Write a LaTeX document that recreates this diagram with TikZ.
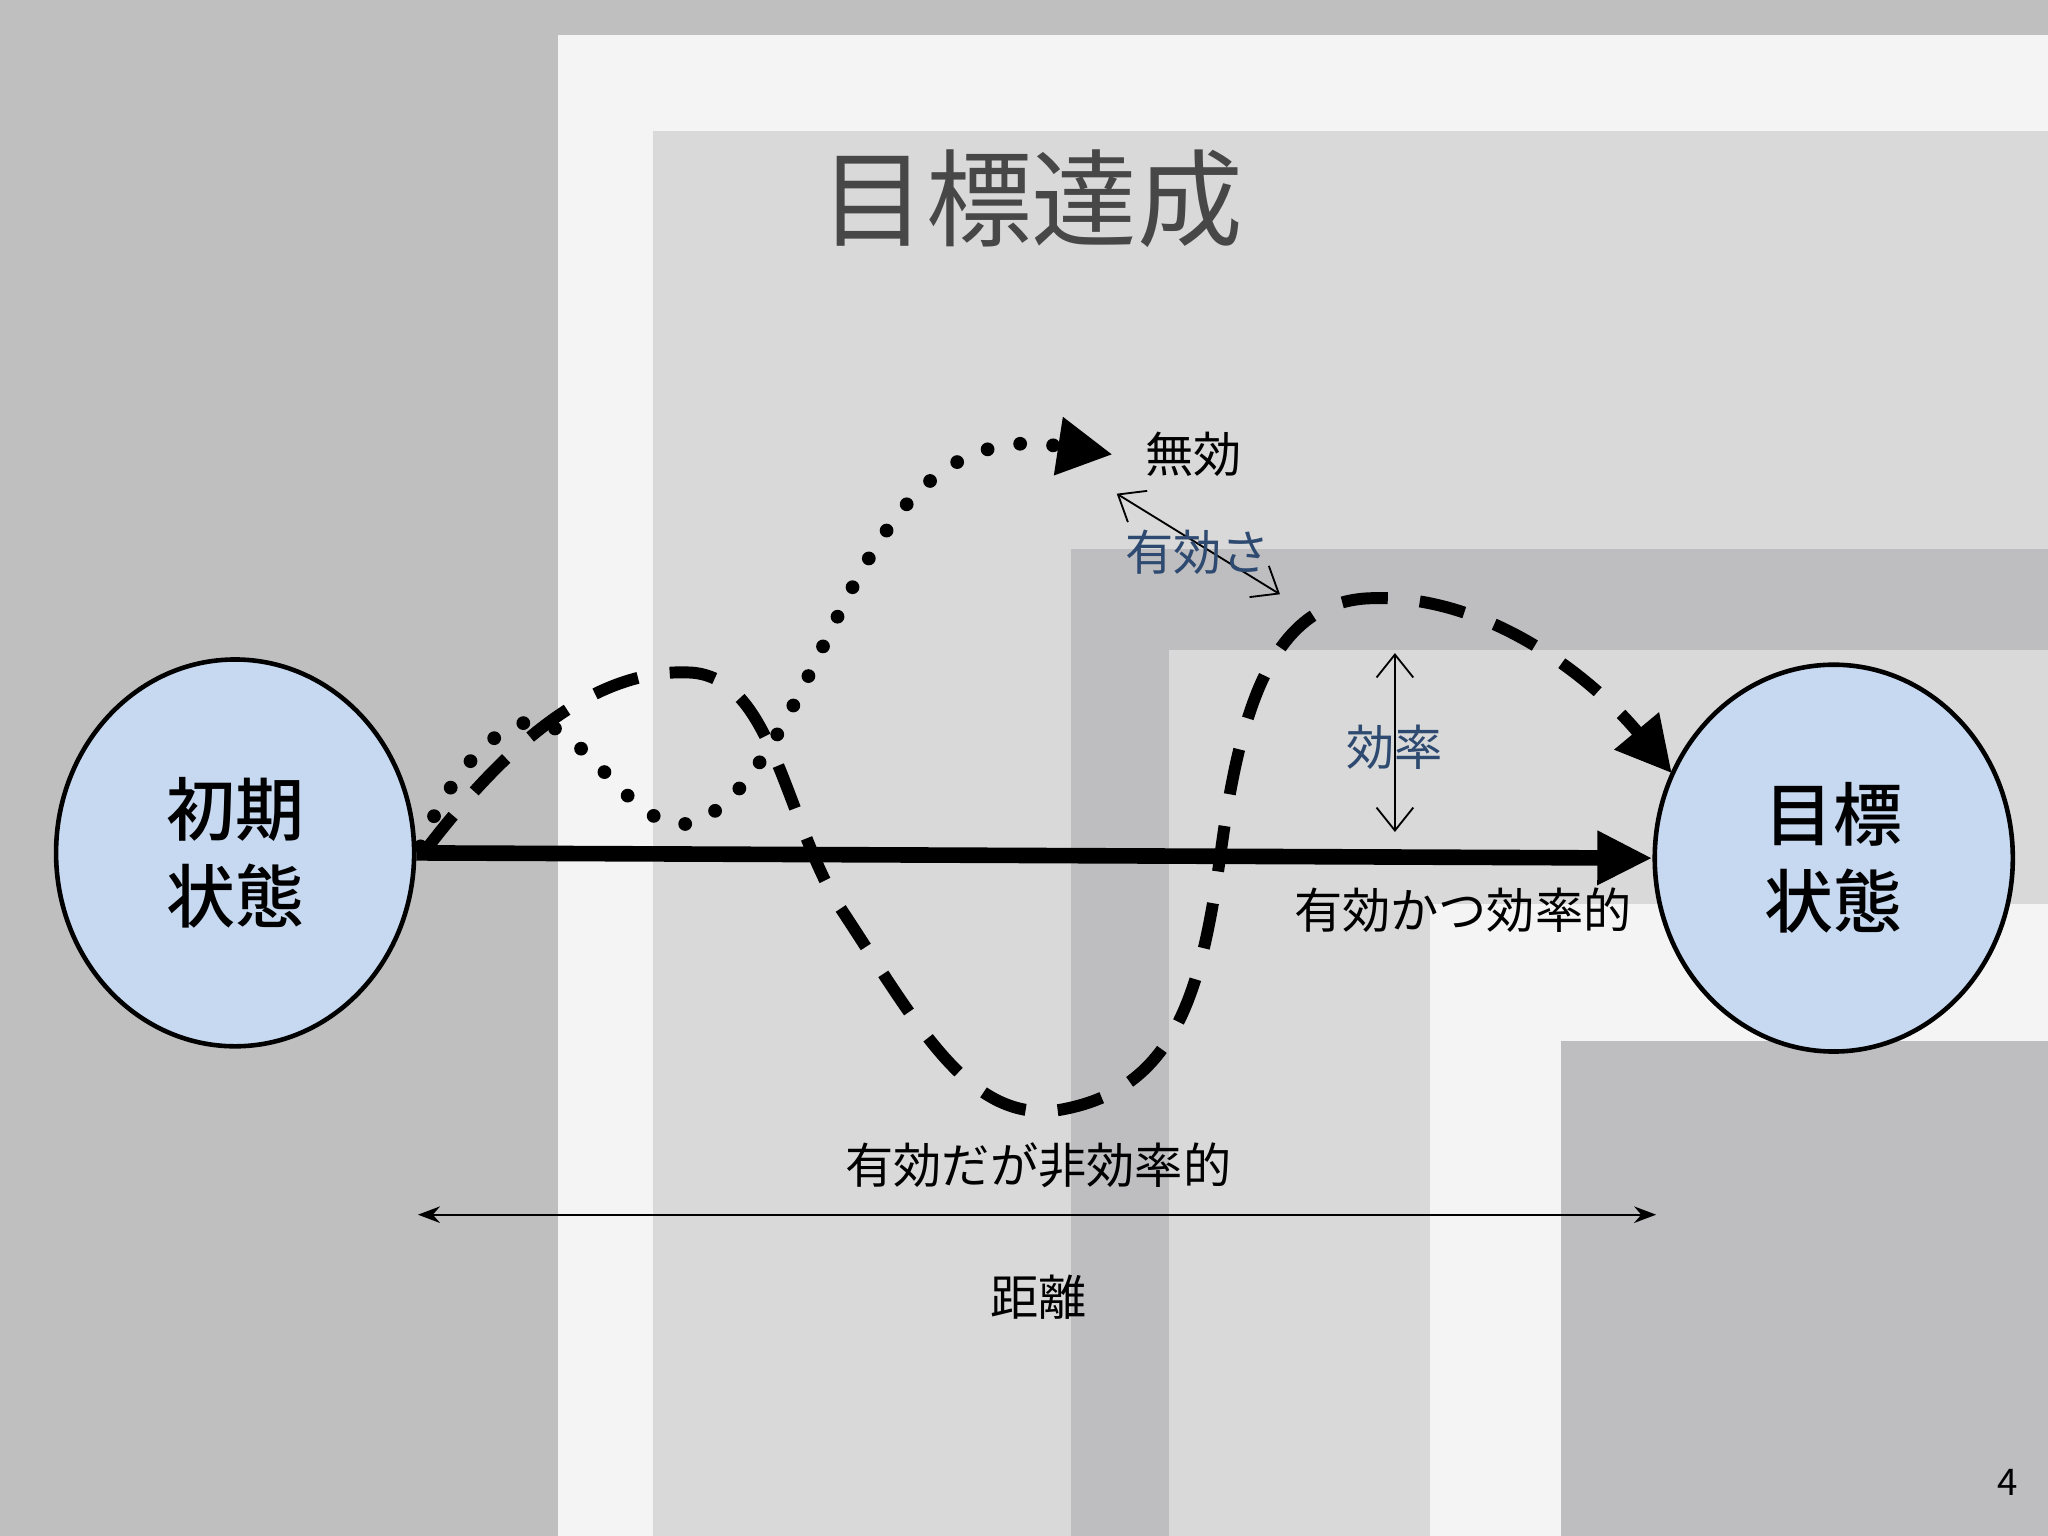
\documentclass[tikz,border=0pt]{standalone}
\usepackage{fontspec}
\setmainfont{Noto Sans CJK JP}
\newfontfamily\jpm{Noto Sans CJK JP Medium}
\usetikzlibrary{arrows.meta,shapes.geometric}
\definecolor{gA}{HTML}{BFBFBF}
\definecolor{wA}{HTML}{F4F4F4}
\definecolor{gB}{HTML}{D9D9D9}
\definecolor{gC}{HTML}{BEBDC0}
\definecolor{circ}{HTML}{C6D9F1}
\definecolor{lblue}{HTML}{2E4A70}
\tikzset{
  state/.style={ellipse,draw=black,line width=1pt,fill=circ,minimum width=2.74cm,minimum height=2.96cm,font=\jpm\fontsize{15}{19}\selectfont,align=center,inner sep=0pt},
  lbl/.style={font=\fontsize{10.5}{12}\selectfont,inner sep=1pt},
  dbl/.style={{Straight Barb[length=5pt,width=8pt]}-{Straight Barb[length=5pt,width=8pt]},thin},
}
\begin{document}
\begin{tikzpicture}[x=0.01cm,y=-0.01cm]
\useasboundingbox (0,0) rectangle (1568,1176);
\fill[gA] (0,0) rectangle (1568,1176);
\fill[wA] (427,27) rectangle (1568,1176);
\fill[gB] (500,100) rectangle (1568,1176);
\fill[gC] (820,420) rectangle (1568,1176);
\fill[gB] (895,498) rectangle (1568,1176);
\fill[wA] (1095,692) rectangle (1568,1176);
\fill[gC] (1195,797) rectangle (1568,1176);
\node[font=\fontsize{23}{26}\selectfont,text=black!72] (title) at (790,152) {目標達成};
\node[state] (init) at (180,653) {初期\\状態};
\node[state] (goal) at (1404,657) {目標\\状態};
\draw[line width=3.4pt,-{Triangle[length=12pt,width=11pt]}] (init.east) -- (goal.west);
\node[lbl] (eff) at (1120,697) {有効かつ効率的};
\coordinate (dstart) at (322,648);
\coordinate (dend) at (852,348);
\draw[line width=3pt,dash pattern=on 0pt off 7.2pt,line cap=round,-{Triangle[length=12pt,width=12pt]}]
 (dstart) .. controls (340,600) and (385,540) .. (420,555)
 .. controls (460,575) and (490,640) .. (530,630)
 .. controls (590,610) and (630,480) .. (670,420)
 .. controls (700,370) and (740,335) .. (800,340) -- (dend);
\node[lbl,anchor=west] (inv) at (873,348) {無効};
\coordinate (sstart) at (325,652);
\coordinate (send) at (1280,592);
\draw[line width=2.6pt,dash pattern=on 10pt off 7pt,-{Triangle[length=12pt,width=12pt]}]
 (sstart) .. controls (380,580) and (450,510) .. (530,515)
 .. controls (590,520) and (600,620) .. (640,690)
 .. controls (700,780) and (740,860) .. (810,850)
 .. controls (900,835) and (920,760) .. (935,650)
 .. controls (950,540) and (975,460) .. (1050,458)
 .. controls (1140,455) and (1220,520) .. (send);
\node[lbl] (ineff) at (795,892) {有効だが非効率的};
\coordinate (ea) at (855,378); \coordinate (eb) at (980,455);
\draw[dbl] (ea) -- (eb);
\node[lbl,text=lblue] (effs) at (917,423) {有効さ};
\coordinate (fa) at (1068,500); \coordinate (fb) at (1068,637);
\draw[dbl] (fa) -- (fb);
\node[lbl,text=lblue] (effi) at (1068,572) {効率};
\coordinate (da) at (320,930); \coordinate (db) at (1268,930);
\draw[{Stealth}-{Stealth},thin] (da) -- (db);
\node[lbl] (dist) at (795,993) {距離};
\node[font=\fontsize{8}{10}\selectfont] (pg) at (1537,1135) {4};
\end{tikzpicture}
\end{document}
